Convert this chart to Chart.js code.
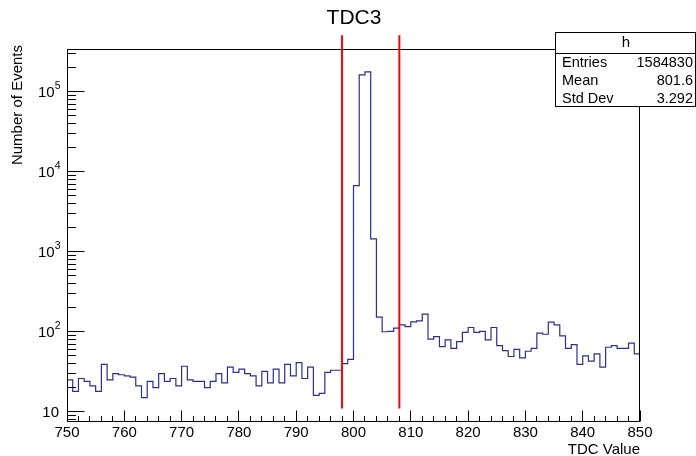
<!DOCTYPE html>
<html>
<head>
<meta charset="utf-8">
<title>TDC3</title>
<script src="https://cdn.jsdelivr.net/npm/chart.js@4.4.1/dist/chart.umd.min.js"></script>
<style>
  html, body { margin: 0; padding: 0; background: #fff; }
  canvas { display: block; }
</style>
</head>
<body>
<canvas id="tdc" width="696" height="456"></canvas>
<script>
var TITLE = 'TDC3';
var X_TITLE = 'TDC Value';
var Y_TITLE = 'Number of Events';

// histogram binning (1 count per TDC unit)
var xRange = [750, 850];
var binWidth = 1;
var yRange = [7.5, 340000];

// bin contents, 750 .. 849
var counts = [
  25, 18, 26, 24, 21, 18, 39, 25, 30, 29,
  28, 27, 21, 15, 24, 20, 30, 24, 26, 21,
  37, 25, 24, 24, 20, 24, 30, 23, 36, 31,
  34, 30, 28, 21, 32, 23, 34, 23, 39, 28,
  41, 26, 36, 16, 17, 31, 33, 33, 40, 45,
  6700, 163000, 178000, 1450, 152, 100, 101, 111, 122, 116,
  133, 137, 166, 81, 87, 65, 79, 62, 75, 98,
  113, 98, 101, 79, 113, 67, 58, 49, 60, 47,
  57, 62, 96, 93, 132, 122, 89, 62, 69, 39,
  50, 43, 53, 36, 64, 67, 62, 62, 72, 53
];

var xMajorTicks = [750, 760, 770, 780, 790, 800, 810, 820, 830, 840, 850];
var xMinorStep = 2;
var yDecades = [10, 100, 1000, 10000, 100000];

// cut window drawn in red
var cutValues = [798, 808];
var cutSpan = [11, 510000];

var statsName = 'h';
var statsLabels = ['Entries', 'Mean', 'Std Dev'];
var statsValues = ['1584830', '801.6', '3.292'];

(function () {
  'use strict';

  var FONT = '"Liberation Sans", Arial, Helvetica, sans-serif';
  var HIST_COLOR = '#2e2e8c';

  function font(size) {
    return size + 'px ' + FONT;
  }

  function crisp(v) {
    return Math.floor(v) + 0.5;
  }

  function line(ctx, x1, y1, x2, y2) {
    ctx.beginPath();
    ctx.moveTo(x1, y1);
    ctx.lineTo(x2, y2);
    ctx.stroke();
  }

  // step outline: each point holds its value up to the next bin edge
  var points = counts.map(function (c, i) {
    return { x: xRange[0] + i * binWidth, y: c };
  });
  points.push({ x: xRange[1], y: counts[counts.length - 1] });

  var rootStyle = {
    id: 'rootStyle',
    afterDatasetsDraw: function (chart) {
      var ctx = chart.ctx;
      var a = chart.chartArea;
      var xs = chart.scales.x;
      var ys = chart.scales.y;
      var L = crisp(a.left), R = crisp(a.right - 1);
      var T = crisp(a.top), B = crisp(a.bottom);

      ctx.save();
      ctx.strokeStyle = '#000';
      ctx.fillStyle = '#000';
      ctx.lineWidth = 1;

      // frame
      ctx.strokeRect(L, T, R - L, B - T);

      // x ticks, inward from the bottom
      var v, px;
      for (v = xRange[0]; v <= xRange[1]; v += xMinorStep) {
        px = crisp(xs.getPixelForValue(v));
        var major = xMajorTicks.indexOf(v) >= 0;
        line(ctx, px, B, px, B - (major ? 11 : 5.5));
      }

      // y ticks on the log axis, inward from the left
      var d, m, py;
      for (d = 1; d <= 100000; d *= 10) {
        for (m = 1; m <= 9; m++) {
          v = m * d;
          if (v < yRange[0] || v > yRange[1]) continue;
          py = crisp(ys.getPixelForValue(v));
          line(ctx, L, py, L + (m === 1 ? 17 : 8.5), py);
        }
      }

      // x tick labels
      ctx.font = font(15);
      ctx.textAlign = 'center';
      ctx.textBaseline = 'middle';
      xMajorTicks.forEach(function (t) {
        ctx.fillText(String(t), xs.getPixelForValue(t), 433);
      });

      // y tick labels: 10, 10^2, ...
      ctx.textBaseline = 'alphabetic';
      yDecades.forEach(function (t) {
        var exp = Math.round(Math.log10(t));
        var y = ys.getPixelForValue(t);
        ctx.font = font(15);
        var wBase = ctx.measureText('10').width;
        if (exp === 1) {
          ctx.textAlign = 'right';
          ctx.fillText('10', 59, y + 5.5);
          return;
        }
        ctx.font = font(10.5);
        var wExp = ctx.measureText(String(exp)).width;
        var left = 60.5 - wExp - wBase;
        ctx.textAlign = 'left';
        ctx.font = font(15);
        ctx.fillText('10', left, y + 5.5);
        ctx.font = font(10.5);
        ctx.fillText(String(exp), left + wBase, y - 2.5);
      });

      // axis titles
      ctx.font = font(15);
      ctx.textAlign = 'right';
      ctx.textBaseline = 'middle';
      ctx.fillText(X_TITLE, a.right, 450);

      ctx.save();
      ctx.translate(18, 45);
      ctx.rotate(-Math.PI / 2);
      ctx.fillText(Y_TITLE, 0, 0);
      ctx.restore();

      // pad title
      ctx.font = font(21);
      ctx.textAlign = 'center';
      ctx.fillText(TITLE, 354, 18);

      // red cut lines
      ctx.strokeStyle = '#ff0000';
      ctx.lineWidth = 2;
      cutValues.forEach(function (c) {
        var cx = xs.getPixelForValue(c);
        line(ctx, cx, ys.getPixelForValue(cutSpan[1]), cx, ys.getPixelForValue(cutSpan[0]));
      });

      // stats box
      var bx = 555.5, by = 32.5, bw = 140, bh = 74;
      ctx.fillStyle = '#fff';
      ctx.fillRect(bx, by, bw, bh);
      ctx.strokeStyle = '#000';
      ctx.lineWidth = 1;
      ctx.strokeRect(bx, by, bw, bh);
      line(ctx, bx, 53.5, bx + bw, 53.5);

      ctx.fillStyle = '#000';
      ctx.font = font(15);
      ctx.textAlign = 'center';
      ctx.fillText(statsName, 626, 43);

      ctx.font = font(14.5);
      var rowY = [63, 81, 98.5];
      statsLabels.forEach(function (lab, i) {
        ctx.textAlign = 'left';
        ctx.fillText(lab, 562, rowY[i]);
        ctx.textAlign = 'right';
        ctx.fillText(statsValues[i], 693, rowY[i]);
      });

      ctx.restore();
    }
  };

  new Chart(document.getElementById('tdc'), {
    type: 'line',
    data: {
      datasets: [{
        label: 'h',
        data: points,
        stepped: true,
        borderColor: HIST_COLOR,
        borderWidth: 1.2,
        pointRadius: 0,
        fill: false
      }]
    },
    options: {
      responsive: false,
      animation: false,
      layout: {
        padding: { left: 67, top: 49.3, right: 56, bottom: 34.3 }
      },
      plugins: {
        legend: { display: false },
        tooltip: { enabled: false },
        title: { display: false }
      },
      scales: {
        x: {
          type: 'linear',
          display: false,
          min: xRange[0],
          max: xRange[1]
        },
        y: {
          type: 'logarithmic',
          display: false,
          min: yRange[0],
          max: yRange[1]
        }
      }
    },
    plugins: [rootStyle]
  });
})();
</script>
</body>
</html>
